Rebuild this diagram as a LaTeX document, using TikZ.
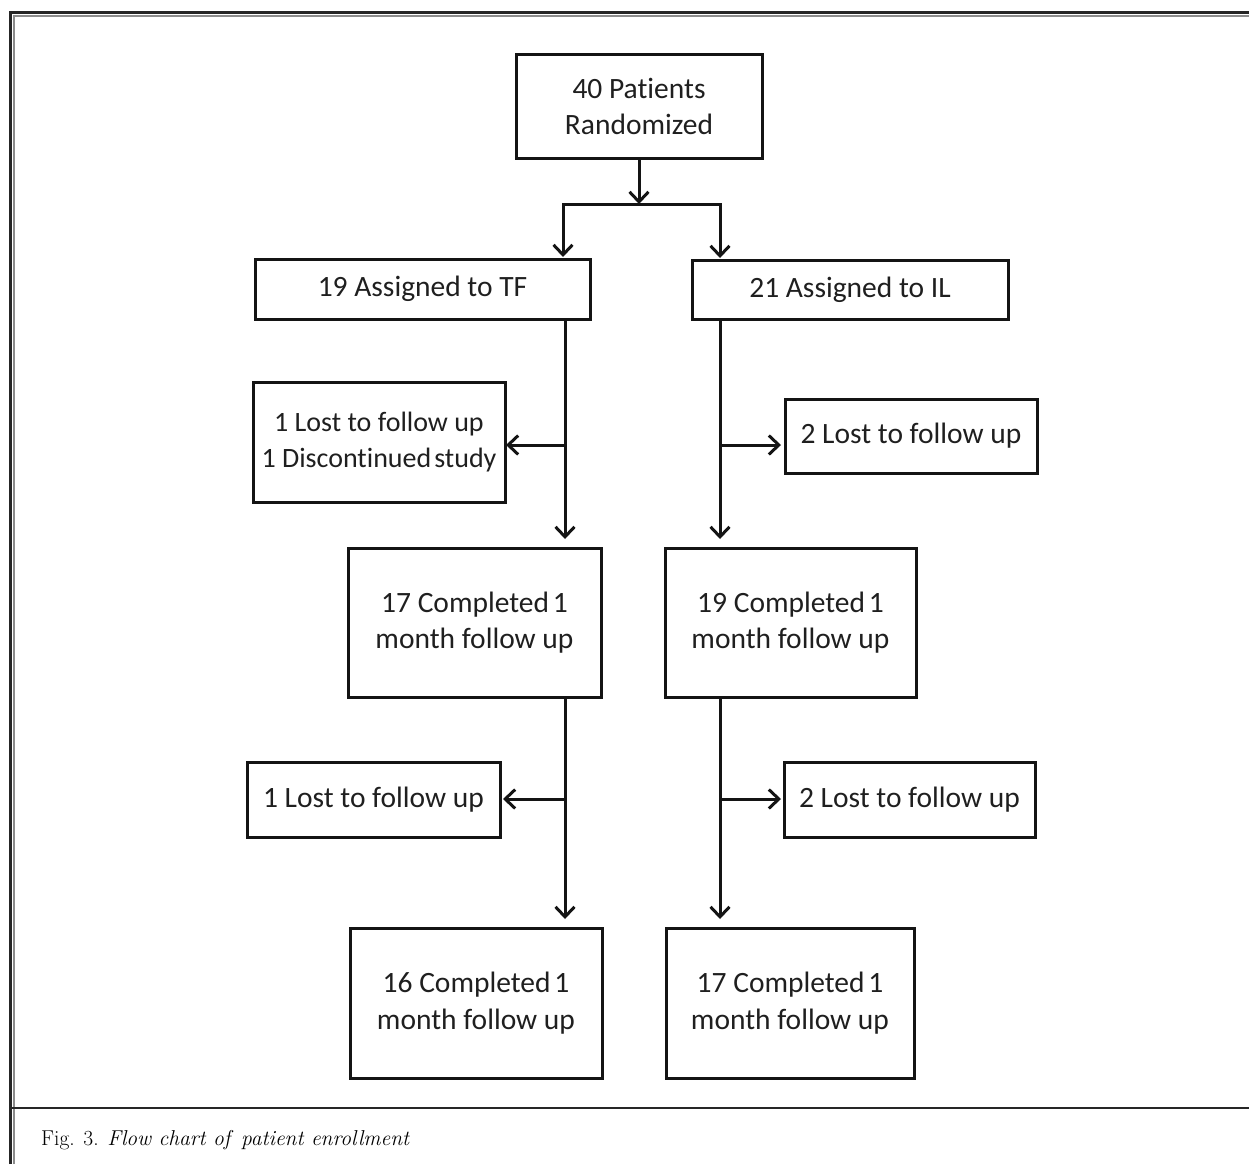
\documentclass[tikz,border=0pt]{standalone}
\usepackage{fontspec}
\newfontfamily\boxfont[Ligatures=NoCommon,RawFeature=-liga]{Carlito}
\usetikzlibrary{arrows.meta}
\begin{document}
\begin{tikzpicture}[x=1pt,y=-1pt,
  box/.style={draw=black!92, line width=3pt, rectangle, inner sep=0pt, outer sep=0pt,
    align=center, font=\boxfont\fontsize{29.5}{36.5}\selectfont, text=black!88},
  conn/.style={line width=3pt, draw=black!92},
  arr/.style={conn, -{Straight Barb[length=10pt,width=19pt]}},
  frameout/.style={line width=2.7pt, draw=black!85},
  framein/.style={line width=1.7pt, draw=black!45},
]
\useasboundingbox (0,0) rectangle (1249,1164);
% frame
\draw[frameout] (10.3,1164) -- (10.3,12.2) -- (1249,12.2);
\draw[framein] (13.9,1164) -- (13.9,15.7) -- (1249,15.7);
\draw[frameout] (10.3,1108) -- (1249,1108);

% boxes
\node[box, minimum width=246pt, minimum height=103pt] (top) at (639,106.5) {40 Patients\\Randomized};
\node[box, minimum width=335pt, minimum height=60pt] (tf) at (422.5,289) {19 Assigned to TF};
\node[box, minimum width=316pt, minimum height=59pt] (il) at (850,289.5) {21 Assigned to IL};
\node[box, minimum width=252pt, minimum height=120pt, font=\boxfont\fontsize{28}{36.5}\selectfont] (lostA) at (379,442) {1 Lost to follow up\\1 Discontinued\hspace{-0.12em} study};
\node[box, minimum width=252pt, minimum height=74pt] (lostB) at (911,436) {2 Lost to follow up};
\node[box, minimum width=253pt, minimum height=149pt] (c17) at (474.5,622.5) {17 Completed\hspace{-0.1em} 1\\month follow up};
\node[box, minimum width=251pt, minimum height=149pt] (c19) at (790.5,622.5) {19 Completed\hspace{-0.1em} 1\\month follow up};
\node[box, minimum width=253pt, minimum height=75pt] (lostC) at (373.5,799.5) {1 Lost to follow up};
\node[box, minimum width=251pt, minimum height=75pt] (lostD) at (909.5,799.5) {2 Lost to follow up};
\node[box, minimum width=252pt, minimum height=150pt] (c16) at (476,1003) {16 Completed\hspace{-0.1em} 1\\month follow up};
\node[box, minimum width=248pt, minimum height=150pt] (c17b) at (790,1003) {17 Completed\hspace{-0.1em} 1\\month follow up};

% split
\coordinate (split) at (639,204);
\coordinate (sl) at (563,204);
\coordinate (sr) at (720,204);
\draw[arr] (top.south) -- (split);
\draw[arr, shorten >=2pt] (split) -| (tf.north -| sl);
\draw[arr, shorten >=2pt] (split) -| (il.north -| sr);

% junctions
\coordinate (ja) at (565,445);
\coordinate (jb) at (565,799);
\coordinate (jc) at (720,445);
\coordinate (jd) at (720,799);

\draw[arr, shorten >=9pt] (tf.south -| ja) -- (c17.north -| ja);
\draw[arr, shorten >=1pt] (ja) -- (lostA.east |- ja);
\draw[arr, shorten >=9pt] (il.south -| jc) -- (c19.north -| jc);
\draw[arr, shorten >=4pt] (jc) -- (lostB.west |- jc);

\draw[arr, shorten >=9pt] (c17.south -| jb) -- (c16.north -| jb);
\draw[arr, shorten >=3pt] (jb) -- (lostC.east |- jb);
\draw[arr, shorten >=9pt] (c19.south -| jd) -- (c17b.north -| jd);
\draw[arr, shorten >=3pt] (jd) -- (lostD.west |- jd);

% caption
\node[anchor=base west, inner sep=0pt, font=\fontsize{21.5}{26}\selectfont, text=black] (cap) at (41,1145)
  {Fig. 3. \textit{Flow chart of\enspace patient enrollment}};
\end{tikzpicture}
\end{document}
